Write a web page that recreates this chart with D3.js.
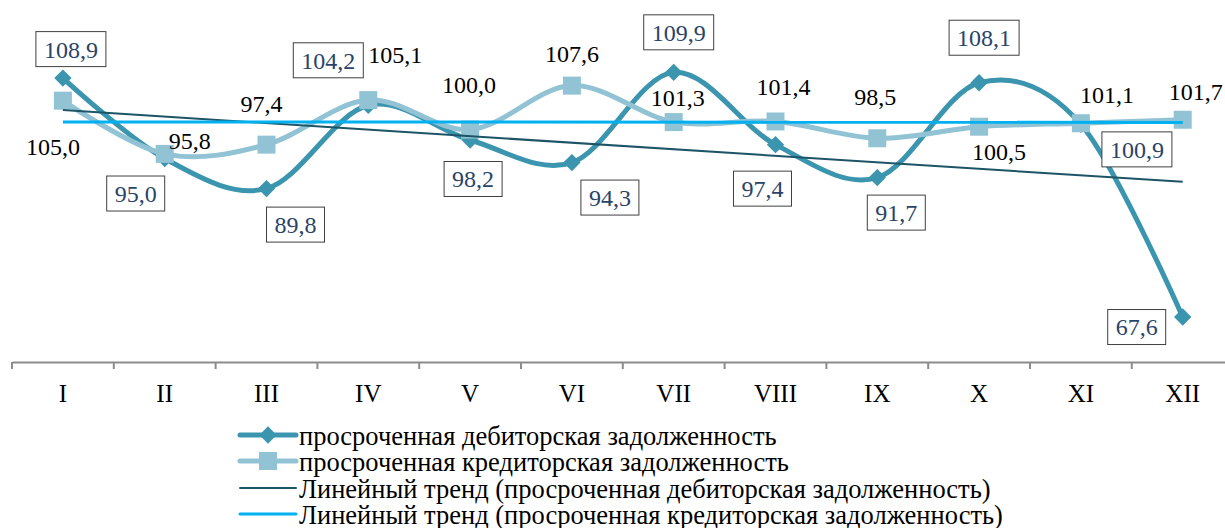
<!DOCTYPE html>
<html lang="ru">
<head>
<meta charset="utf-8">
<title>Просроченная задолженность</title>
<script src="https://cdn.jsdelivr.net/npm/d3@7"></script>
<style>
	body { margin: 0; background: #fff; }
	text { font-family: "Liberation Serif", serif; }
</style>
</head>
<body>
<svg id="chart" width="1225" height="528"></svg>
<script>
// months (roman numerals) and the two series, %
var months = ["I", "II", "III", "IV", "V", "VI", "VII", "VIII", "IX", "X", "XI", "XII"]
var debit = [108.9, 95.0, 89.8, 104.2, 98.2, 94.3, 109.9, 97.4, 91.7, 108.1, 100.9, 67.6]
var credit = [105.0, 95.8, 97.4, 105.1, 100.0, 107.6, 101.3, 101.4, 98.5, 100.5, 101.1, 101.7]
var legendNames = [
	"просроченная дебиторская задолженность",
	"просроченная кредиторская задолженность",
	"Линейный тренд (просроченная дебиторская задолженность)",
	"Линейный тренд (просроченная кредиторская задолженность)"
]

// label offsets from the point (hand placed, like in the original)
var debitOff = [[8,-29],[-29,35],[29,36],[-40,-45],[3,39],[38,35],[5,-40],[-13,44],[19,35],[5,-45],[56,25],[-46,10]]
var creditOff = [[-10,46],[25,-13],[-5,-41],[27,-45],[-1,-45],[0,-32],[4,-24],[8,-35],[-2,-42],[20,25],[26,-29],[13,-28]]

var colDebit = "#3b95ae", colCredit = "#92c3d5", colTrendD = "#1d5466", colTrendC = "#00b0f0"
var serif = "Liberation Serif"

var svg = d3.select("#chart")

var x = d3.scaleBand().domain(months).range([12, 12 + 12 * 101.8])
var y = d3.scaleLinear().domain([60, 122.4]).range([361, 0])
var cx = function(i) { return x(months[i]) + x.bandwidth() / 2 }

// x axis
var axis = svg.append("g").attr("transform", "translate(0,362)")
	.call(d3.axisBottom(x).tickSize(0).tickPadding(22))
axis.attr("font-family", serif)
axis.select(".domain").attr("stroke", "#8c8c8c").attr("stroke-width", 2)
axis.selectAll("text").attr("font-size", 25).attr("fill", "#000").attr("font-family", serif)
// ticks at the band edges
axis.selectAll(".edge").data(d3.range(13)).enter().append("line")
	.attr("x1", function(d) { return 12 + d * x.step() })
	.attr("x2", function(d) { return 12 + d * x.step() })
	.attr("y1", 0).attr("y2", 7).attr("stroke", "#8c8c8c").attr("stroke-width", 2)

// linear trend, least squares over the month index
var trend = function(vals) {
	var n = vals.length, xs = d3.range(1, n + 1)
	var mx = d3.mean(xs), my = d3.mean(vals)
	var b = d3.sum(xs, function(v, i) { return (v - mx) * (vals[i] - my) }) / d3.sum(xs, function(v) { return (v - mx) * (v - mx) })
	var a = my - b * mx
	return [a + b * 1, a + b * n]
}

var line = d3.line()
	.x(function(d, i) { return cx(i) })
	.y(function(d) { return y(d) })
	.curve(d3.curveCardinal.tension(0))

svg.append("path").datum(debit).attr("d", line)
	.attr("fill", "none").attr("stroke", colDebit).attr("stroke-width", 5)
svg.selectAll(".dm").data(debit).enter().append("path")
	.attr("d", d3.symbol(d3.symbolSquare, 150)())
	.attr("transform", function(d, i) { return "translate(" + cx(i) + "," + y(d) + ") rotate(45)" })
	.attr("fill", colDebit)

svg.append("path").datum(credit).attr("d", line)
	.attr("fill", "none").attr("stroke", colCredit).attr("stroke-width", 5)
svg.selectAll(".cm").data(credit).enter().append("rect")
	.attr("x", function(d, i) { return cx(i) - 9 }).attr("y", function(d) { return y(d) - 9 })
	.attr("width", 18).attr("height", 18).attr("fill", colCredit)

var td = trend(debit), tc = trend(credit)
svg.append("line").attr("x1", cx(0)).attr("x2", cx(11)).attr("y1", y(td[0])).attr("y2", y(td[1]))
	.attr("stroke", colTrendD).attr("stroke-width", 2)
svg.append("line").attr("x1", cx(0)).attr("x2", cx(11)).attr("y1", y(tc[0])).attr("y2", y(tc[1]))
	.attr("stroke", colTrendC).attr("stroke-width", 3)

var fmt = function(v) { return v.toFixed(1).replace(".", ",") }

// boxed labels for debit
var dl = svg.selectAll(".dl").data(debit).enter().append("g")
	.attr("transform", function(d, i) { return "translate(" + (cx(i) + debitOff[i][0]) + "," + (y(d) + debitOff[i][1]) + ")" })
dl.append("rect").attr("x", -35).attr("y", -17.5).attr("width", 70).attr("height", 35)
	.attr("fill", "#fff").attr("stroke", "#404040").attr("stroke-width", 1)
dl.append("text").text(fmt).attr("text-anchor", "middle").attr("dy", "0.35em")
	.attr("font-family", serif).attr("font-size", 24).attr("fill", "#2a4468")
dl.each(function() {
	var g = d3.select(this), w = g.select("text").node().getComputedTextLength() + 16
	g.select("rect").attr("x", -w / 2).attr("width", w)
})

// plain labels for credit
svg.selectAll(".cl").data(credit).enter().append("text")
	.attr("x", function(d, i) { return cx(i) + creditOff[i][0] })
	.attr("y", function(d, i) { return y(d) + creditOff[i][1] })
	.attr("dy", "0.35em").attr("text-anchor", "middle")
	.attr("font-family", serif).attr("font-size", 24).attr("fill", "#000").text(fmt)

// legend
var lg = svg.append("g")
var ly = [435, 461, 488, 514]
var lcol = [colDebit, colCredit, colTrendD, colTrendC]
var lw = [5, 5, 2, 3]
lg.selectAll("line").data(legendNames).enter().append("line")
	.attr("x1", 240).attr("x2", 296)
	.attr("y1", function(d, i) { return ly[i] }).attr("y2", function(d, i) { return ly[i] })
	.attr("stroke", function(d, i) { return lcol[i] }).attr("stroke-width", function(d, i) { return lw[i] })
	.attr("stroke-linecap", "round")
lg.append("path").attr("d", d3.symbol(d3.symbolSquare, 150)())
	.attr("transform", "translate(268," + ly[0] + ") rotate(45)").attr("fill", colDebit)
lg.append("rect").attr("x", 259).attr("y", ly[1] - 9).attr("width", 18).attr("height", 18).attr("fill", colCredit)
lg.selectAll("text").data(legendNames).enter().append("text")
	.attr("x", 299).attr("y", function(d, i) { return ly[i] + 1 }).attr("dy", "0.35em")
	.attr("font-family", serif).attr("font-size", 26.5).attr("fill", "#000").text(function(d) { return d })
</script>
</body>
</html>
